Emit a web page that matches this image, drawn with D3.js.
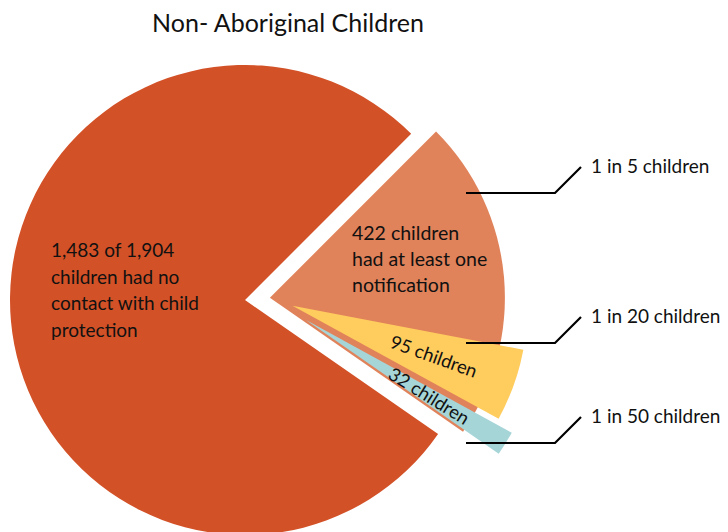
<!DOCTYPE html>
<meta charset="utf-8">
<html>
  <head>
    <title>Non- Aboriginal Children</title>
    <script src="https://d3js.org/d3.v7.min.js"></script>
    <style>
      body { margin: 0; background: #fff; }
      text { font-family: Lato, "Open Sans", sans-serif; fill: #111; }
    </style>
  </head>
  <body>
    <div id="chart"></div>
    <script type="text/javascript">

        // data
        var total = 1904;
        var categories = ["At least one notification", "No contact"];
        var counts = [422, 1483];
        var subCategories = ["1 in 20", "1 in 50"];
        var subCounts = [95, 32];
        var ratioLabels = ["1 in 5 children", "1 in 20 children", "1 in 50 children"];

        var width = 728, height = 532,
            centre = {x: 245, y: 300},
            radius = 235,
            colors = {main: "#d35127", notified: "#e0825a", sub: ["#ffcc5e", "#a6d5d8"]};

        // how far the slices are pulled out
        var groupShift = 25, subShift = [24, 42];
        // annotation rows on the right
        var rows = [193, 343, 443];

        function shift(angle, dist) {
            return [Math.sin(angle) * dist, -Math.cos(angle) * dist];
        }
        function mid(d) { return (d.startAngle + d.endAngle) / 2; }

        var svg = d3.select("#chart").append("svg")
            .attr("width", width)
            .attr("height", height);

        svg.append("text")
            .attr("x", 288)
            .attr("y", 32)
            .attr("text-anchor", "middle")
            .style("font-size", "25px")
            .text("Non- Aboriginal Children");

        var pie = d3.pie().sort(null)
            .startAngle(Math.PI / 4)
            .endAngle(Math.PI / 4 + 2 * Math.PI);
        var slices = pie(counts);

        var arc = d3.arc().innerRadius(0).outerRadius(radius);

        var chart = svg.append("g")
            .attr("transform", "translate(" + centre.x + "," + centre.y + ")");

        // main slice (no contact)
        var main = slices[1];
        chart.append("path")
            .attr("d", arc(main))
            .attr("fill", colors.main);

        // notified slice, pulled out
        var grp = slices[0];
        var g0 = shift(mid(grp), groupShift);
        var grpG = chart.append("g")
            .attr("transform", "translate(" + g0[0] + "," + g0[1] + ")");
        grpG.append("path")
            .attr("d", arc(grp))
            .attr("fill", colors.notified);

        // sub slices within the notified slice
        var subPie = d3.pie().sort(null)
            .startAngle(grp.startAngle)
            .endAngle(grp.endAngle);
        var subSlices = subPie([counts[0] - d3.sum(subCounts)].concat(subCounts)).slice(1);

        var subG = grpG.selectAll(".sub")
            .data(subSlices)
            .enter().append("g")
            .attr("class", "sub")
            .attr("transform", function(d, i) {
                var s = shift(mid(d), subShift[i]);
                return "translate(" + s[0] + "," + s[1] + ")";
            });
        subG.append("path")
            .attr("d", arc)
            .attr("fill", function(d, i) { return colors.sub[i]; });
        subG.append("text")
            .attr("transform", function(d, i) {
                var p = shift(mid(d), i == 0 ? 150 : 145);
                return "translate(" + p[0] + "," + p[1] + ") rotate(" + (mid(d) * 180 / Math.PI - 90) + ")";
            })
            .attr("text-anchor", "middle")
            .attr("dy", "0.35em")
            .style("font-size", "18.5px")
            .text(function(d) { return d.value + " children"; });

        // slice labels
        var mainLines = [d3.format(",")(counts[1]) + " of " + d3.format(",")(total),
                         "children had no", "contact with child", "protection"];
        chart.append("text")
            .attr("x", -194)
            .attr("y", -43)
            .style("font-size", "19px")
            .selectAll("tspan")
            .data(mainLines)
            .enter().append("tspan")
            .attr("x", -194)
            .attr("dy", function(d, i) { return i == 0 ? 0 : 26.5; })
            .text(function(d) { return d; });

        var grpLines = [counts[0] + " children", "had at least one", "notification"];
        chart.append("text")
            .attr("x", 107)
            .attr("y", -60)
            .style("font-size", "19.5px")
            .selectAll("tspan")
            .data(grpLines)
            .enter().append("tspan")
            .attr("x", 107)
            .attr("dy", function(d, i) { return i == 0 ? 0 : 26; })
            .text(function(d) { return d; });

        // leader lines and ratio labels
        var notes = svg.append("g").selectAll(".note")
            .data(ratioLabels)
            .enter().append("g")
            .attr("class", "note");
        notes.append("path")
            .attr("d", function(d, i) {
                return "M466," + rows[i] + "H555L581," + (rows[i] - 26);
            })
            .attr("fill", "none")
            .attr("stroke", "#000")
            .attr("stroke-width", 2.2);
        notes.append("text")
            .attr("x", 591)
            .attr("y", function(d, i) { return rows[i] - 20; })
            .style("font-size", "19px")
            .text(function(d) { return d; });

    </script>
  </body>
</html>
